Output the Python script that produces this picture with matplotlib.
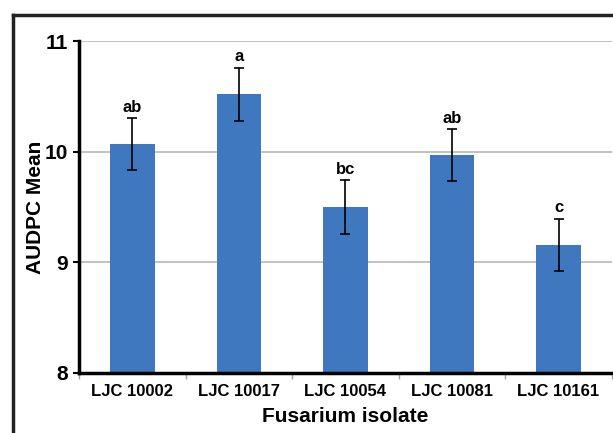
import matplotlib.pyplot as plt
from matplotlib.lines import Line2D

isolates = ['LJC 10002', 'LJC 10017', 'LJC 10054', 'LJC 10081', 'LJC 10161']
means = [10.07, 10.52, 9.50, 9.97, 9.16]
errors = [0.235, 0.24, 0.24, 0.235, 0.235]
letters = ['ab', 'a', 'bc', 'ab', 'c']

plt.rcParams['font.family'] = ['Liberation Sans', 'DejaVu Sans']
plt.rcParams['font.weight'] = 'bold'

fig = plt.figure(figsize=(6.13, 4.33), dpi=100)
ax = fig.add_axes([0.129, 0.139, 0.869, 0.766])

x = list(range(len(isolates)))
ax.bar(x, means, width=0.42, color='#3f78be', zorder=2)
ax.errorbar(x, means, yerr=errors, fmt='none', ecolor='black',
            elinewidth=1.2, capsize=3.5, capthick=1.2, zorder=3)
for xi, m, e, lab in zip(x, means, errors, letters):
    ax.text(xi, m + e + 0.03, lab, ha='center', va='bottom',
            fontsize=12, fontweight='bold')

ax.set_xlim(-0.5, 4.5)
ax.set_ylim(8, 11)
ax.set_yticks([8, 9, 10, 11])
ax.yaxis.grid(True, color='#b8b8b8', linewidth=1.2, zorder=0)
ax.set_axisbelow(True)

ax.set_xticks(x)
ax.set_xticklabels(isolates, fontsize=12, fontweight='bold')
ax.set_xticks([i + 0.5 for i in range(-1, 5)], minor=True)
ax.tick_params(axis='x', which='major', length=0, pad=8)
ax.tick_params(axis='x', which='minor', length=4, color='#a0a0a0', width=1)
ax.tick_params(axis='y', labelsize=15, length=4, width=1.5, pad=4)

for s in ['top', 'right']:
    ax.spines[s].set_visible(False)
ax.spines['left'].set_linewidth(2.5)
ax.spines['bottom'].set_linewidth(2.5)

ax.set_ylabel('AUDPC Mean', fontsize=15, fontweight='bold', labelpad=0)
ax.set_xlabel('Fusarium isolate', fontsize=15, fontweight='bold', labelpad=6)

# frame around the figure (cut off at right and bottom)
fig.add_artist(Line2D([13 / 613, 13 / 613], [0, 1 - 15 / 433],
                      color='#222222', linewidth=2.5))
fig.add_artist(Line2D([13 / 613, 1], [1 - 15 / 433, 1 - 15 / 433],
                      color='#222222', linewidth=2.5))

fig.savefig('out.png', dpi=100)
